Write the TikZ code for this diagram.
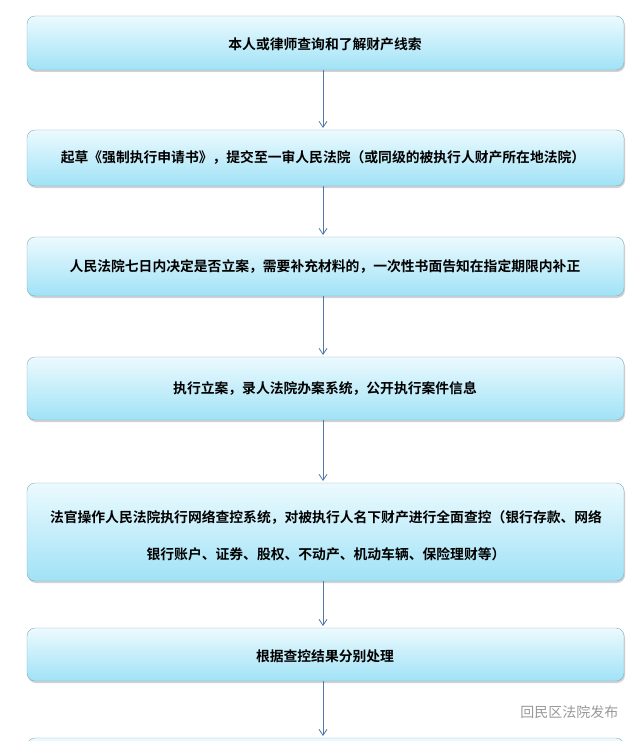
\documentclass[tikz,border=0pt]{standalone}
\usepackage{fontspec}
\newfontfamily\cjk{Noto Sans CJK SC Bold}
\usetikzlibrary{shadows,arrows.meta}
\definecolor{boxtop}{RGB}{236,250,254}
\definecolor{boxbot}{RGB}{160,226,246}
\definecolor{boxline}{RGB}{130,170,195}
\definecolor{arr}{RGB}{80,120,170}
\tikzset{
 stepbox/.style={draw=boxline, rounded corners=8pt, top color=boxtop, bottom color=boxbot, drop shadow={shadow xshift=1pt,shadow yshift=-2pt,opacity=0.35}},
 lab/.style={font=\cjk\fontsize{13.8}{16}\selectfont, align=center, text=black, inner sep=0pt},
 conn/.style={draw=arr, line width=0.8pt, -{Straight Barb[length=6pt,width=8pt]}}
}
\begin{document}
\begin{tikzpicture}[x=1pt,y=-1pt]
\useasboundingbox (0,0) rectangle (640,741);
\fill[white] (0,0) rectangle (640,741);
\begin{scope}
\clip (0,0) rectangle (640,741);
\path[stepbox] (27,16) rectangle (624,70);
\path[stepbox] (27,130) rectangle (624,186);
\path[stepbox] (27,237) rectangle (624,296);
\path[stepbox] (27,357) rectangle (624,420);
\path[stepbox] (27,483) rectangle (624,581);
\path[stepbox] (27,628) rectangle (624,681);
\path[stepbox] (27,738) rectangle (624,790);
\end{scope}
\node[lab] (b1) at (325,44) {本人或律师查询和了解财产线索};
\node[lab] (b2) at (323,158) {起草《强制执行申请书》，提交至一审人民法院（或同级的被执行人财产所在地法院）};
\node[lab] (b3) at (325,267) {人民法院七日内决定是否立案，需要补充材料的，一次性书面告知在指定期限内补正};
\node[lab] (b4) at (325,389) {执行立案，录人法院办案系统，公开执行案件信息};
\node[lab, font=\cjk\fontsize{13.8}{37}\selectfont] (b5) at (326,536) {法官操作人民法院执行网络查控系统，对被执行人名下财产进行全面查控（银行存款、网络\\银行账户、证券、股权、不动产、机动车辆、保险理财等）};
\node[lab] (b6) at (325,656) {根据查控结果分别处理};
\coordinate (t1) at (323,70); \coordinate (h1) at (323,128);
\coordinate (t2) at (323,186); \coordinate (h2) at (323,235);
\coordinate (t3) at (323,296); \coordinate (h3) at (323,355);
\coordinate (t4) at (323,420); \coordinate (h4) at (323,481);
\coordinate (t5) at (323,581); \coordinate (h5) at (323,626);
\coordinate (t6) at (323,681); \coordinate (h6) at (323,736);
\foreach \i in {1,...,6} {\draw[conn] (t\i) -- (h\i);}
\node[font=\fontspec{Noto Sans CJK SC}\fontsize{14}{16}\selectfont, text=gray!80, anchor=east] (wm) at (622,712) {回民区法院发布};
\end{tikzpicture}
\end{document}
